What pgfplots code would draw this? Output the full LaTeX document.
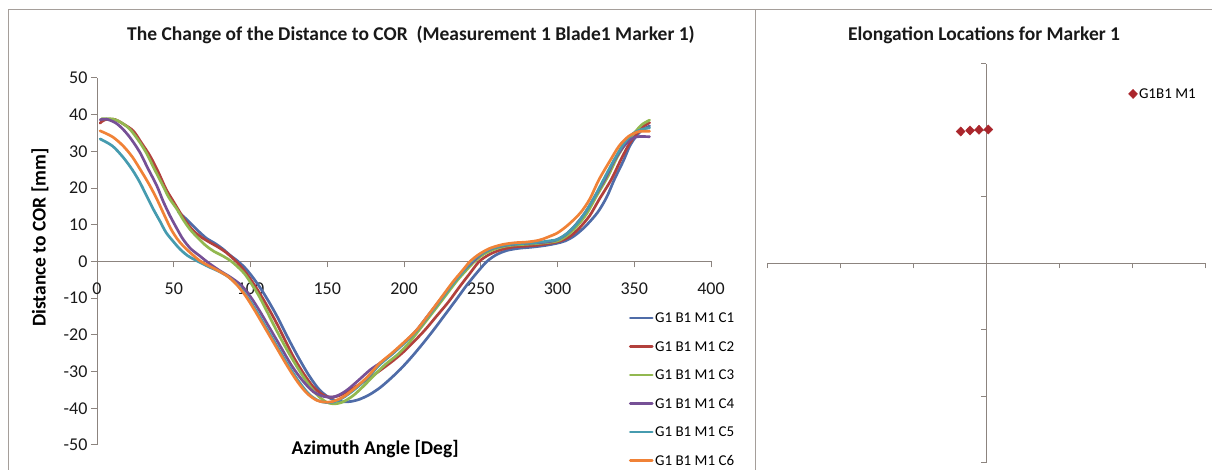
\documentclass[border=0pt]{standalone}
\usepackage{fontspec}
\setmainfont{Carlito}
\usepackage{pgfplots}
\pgfplotsset{compat=1.18}
\definecolor{axiscol}{RGB}{140,132,127}
\definecolor{framecol}{RGB}{165,158,154}
\definecolor{c1}{RGB}{79,108,168}
\definecolor{c2}{RGB}{178,64,60}
\definecolor{c3}{RGB}{146,184,80}
\definecolor{c4}{RGB}{118,80,150}
\definecolor{c5}{RGB}{70,155,175}
\definecolor{c6}{RGB}{240,130,55}
\definecolor{mk}{RGB}{170,38,44}
\begin{document}
\begin{tikzpicture}
\path[use as bounding box] (0pt,0pt) rectangle (1212pt,470pt);
\begin{axis}[
  at={(97pt,25pt)}, anchor=south west, scale only axis,
  width=614pt, height=367pt,
  xmin=0, xmax=400, ymin=-50, ymax=50,
  axis x line=middle, axis y line=left,
  axis line style={draw=axiscol, line width=1pt, -},
  xtick={0,50,...,400}, ytick={-50,-40,...,50},
  tick align=outside, major tick length=6pt,
  tick style={draw=axiscol, line width=1pt},
  every tick label/.append style={font=\fontsize{18}{18}\selectfont, text=black!90},
  xticklabel style={yshift=-12pt},
  /pgf/number format/assume math mode=true,
  hide obscured x ticks=false, hide obscured y ticks=false,
  clip=false,
  xlabel={Azimuth Angle [Deg]}, ylabel={Distance to COR [mm]},
  xlabel style={at={(axis description cs:0.453,-0.011)}, anchor=center, font=\bfseries\fontsize{19.5}{19.5}\selectfont},
  ylabel style={at={(axis description cs:-0.093,0.565)}, anchor=center, rotate=0, font=\bfseries\fontsize{19.5}{19.5}\selectfont},
  legend style={at={(axis description cs:0.866,0.368)}, anchor=north west, draw=none, fill=none, inner sep=0pt, row sep=12.5pt, font=\fontsize{15}{15}\selectfont, nodes={inner sep=1.5pt, text height=11pt, text depth=2pt}},
  legend cell align=left,
  legend image code/.code={\draw[#1] (0pt,0pt) -- (22pt,0pt);},
  every axis plot/.append style={line width=2.7pt, smooth, tension=0.5, line cap=round},
]
\addplot[c1] coordinates {(53,13.5)(57,12)(60.5,10.6)(66,8.3)(71.4,6.3)(77,4.9)(82,3.4)(87,1.6)(92,0)(97,-2)(102,-4.6)(107,-7.6)(112,-11)(118,-15.5)(124,-20.5)(131,-26)(138,-31)(145,-35)(152,-37.3)(158,-38.1)(164,-38.2)(170,-37.7)(177,-36.4)(184,-34.5)(191,-32)(198,-29.2)(205,-26)(212,-22.5)(219,-18.8)(226,-14.9)(234,-10.4)(241,-6.4)(248,-2.8)(254,0)(260,1.8)(267,3)(275,3.6)(283,3.9)(291,4.3)(299,4.9)(305,5.6)(311,7)(318,9.5)(326,13.3)(332,17.5)(337,22.3)(343,27.5)(347,31.4)(351,34)(355,35.8)(360,36.9)};
\addlegendentry{G1 B1 M1 C1}
\addplot[c2] coordinates {(2,37.7)(5,38.6)(11.7,38.7)(17,37.5)(23.6,35.6)(29,32.3)(34.5,28.8)(40,24.3)(45,19.7)(50,16.2)(54,13.4)(58,10.8)(62.7,8.4)(68,6.6)(73.5,5.2)(79,3.9)(84,2.5)(90,0.3)(95,-2)(100,-4.8)(105,-8)(110,-11.5)(116,-16)(122,-21)(128,-26)(135,-30.8)(141,-34.2)(147,-36.3)(152,-37)(158,-36.5)(165,-35)(172,-33.2)(179,-31.3)(186,-29.2)(193,-27)(200,-24.5)(207,-21.6)(214,-18.5)(221,-15)(229,-11)(236,-7)(243,-3.2)(249,0)(256,2)(264,3.3)(272,4)(280,4.2)(288,4.5)(296,5)(302,5.6)(308,6.8)(314,9)(321,12.5)(327,16.8)(335,22.3)(341,27.5)(346,31.5)(351,34.5)(356,36.8)(360,37.8)};
\addlegendentry{G1 B1 M1 C2}
\addplot[c3] coordinates {(3,38.9)(10.6,38.8)(16,37.8)(21.5,36)(27,33)(32,29.7)(37,25.5)(43,20.6)(47,17.3)(52,14.3)(56,11.5)(60.5,8.8)(66,6.3)(71,4.3)(76,2.8)(82,1.5)(87,0.2)(91,-1.2)(96,-3.3)(100,-5.7)(105,-9)(110,-13)(116,-18)(123,-23.5)(130,-28.5)(137,-33)(143,-36.2)(149,-38.2)(154,-38.8)(160,-38.3)(167,-36.5)(174,-33.8)(181,-30.8)(188,-28)(196,-25.3)(204,-21.8)(212,-17.5)(220,-13.2)(228,-8.8)(235,-5)(241,-2.2)(246,0)(252,2)(260,3.5)(268,4.3)(276,4.6)(284,4.8)(292,5.1)(300,5.6)(306,7)(312,9.3)(319,13)(325,17.5)(333,23.3)(339,28.5)(345,32.5)(350,35)(355,37.3)(360,38.5)};
\addlegendentry{G1 B1 M1 C3}
\addplot[c4] coordinates {(2,38.6)(6,38.8)(12,37.8)(17,36)(22,33.5)(28,29.7)(33,25.5)(39,20.6)(43,16.5)(47.5,12.5)(52,9)(56,6.1)(61,3.5)(67,1.5)(73,-0.5)(80,-2.5)(87,-4.3)(94,-6.5)(100,-9.6)(106,-13.5)(113,-18.5)(120,-23.5)(127,-28.5)(134,-32.5)(141,-35.5)(148,-36.8)(155,-36.8)(162,-35.3)(170,-32.5)(178,-29.5)(184,-27.8)(192,-25.3)(200,-22.2)(208,-18.8)(216,-14.5)(224,-10.2)(232,-5.8)(239,-2.4)(245,0)(251,2.2)(258,3.6)(266,4.4)(274,4.8)(282,5)(290,5.2)(298,5.7)(305,7.2)(311,9.6)(318,13.3)(324,17.5)(331,22.5)(337,27.5)(343,31.3)(348,33.3)(352,34)(360,34)};
\addlegendentry{G1 B1 M1 C4}
\addplot[c5] coordinates {(2,33.4)(10,31.5)(17,28.4)(23,25)(28,21.5)(33,17.3)(37,14)(41,11)(45,7.9)(50,5.3)(54,3.4)(59,1.6)(65,0.2)(73,-1.5)(79,-2.6)(86,-4.3)(92,-6.6)(98,-9.7)(104,-13.6)(111,-18.6)(118,-23.6)(125,-28.6)(132,-33)(138,-36.1)(144,-37.9)(149,-38.4)(154,-38.3)(160,-37.2)(168,-34.8)(176,-31.8)(184,-28.2)(192,-25.3)(200,-22.3)(208,-19)(216,-14.8)(224,-10.4)(232,-6)(238,-3)(244,0)(250,2)(257,3.5)(265,4.4)(273,4.8)(281,5)(289,5.3)(296,5.7)(300,6)(306,7.6)(312,10)(318,13.3)(324,17.5)(330,22.3)(337,27.8)(343,32)(349,34.8)(355,36)(360,36.4)};
\addlegendentry{G1 B1 M1 C5}
\addplot[c6] coordinates {(2,35.6)(10,34)(17,31.5)(23,28.5)(28,25.2)(34,21)(39,17)(44,12.5)(48,9)(52,6.3)(56,4.3)(61,2.3)(67,0.2)(72,-1)(78,-2.3)(85,-4)(91,-6.3)(97,-9.5)(103,-13.5)(110,-18.5)(117,-23.5)(124,-28.5)(131,-33)(137,-36)(143,-37.8)(148,-38.3)(153,-38.2)(160,-37)(168,-34.5)(176,-31.5)(184,-27.8)(192,-25)(200,-22)(208,-18.8)(216,-14.5)(224,-10)(232,-5.5)(238,-2.5)(243,0)(249,2)(256,3.6)(264,4.6)(272,5.1)(280,5.3)(288,5.8)(294,6.7)(300,7.8)(307,10)(315,13.3)(321,17)(327,22.3)(334,27.3)(340,31.4)(346,34)(352,35.3)(356,35.5)(360,35.5)};
\addlegendentry{G1 B1 M1 C6}
\end{axis}
\begin{axis}[
  at={(767pt,7pt)}, anchor=south west, scale only axis,
  width=438pt, height=399pt,
  xmin=-3, xmax=3, ymin=-3, ymax=3,
  axis lines=middle,
  axis line style={draw=axiscol, line width=1pt, -},
  xtick={-3,-2,...,3}, ytick={-3,-2,...,3},
  xticklabels={}, yticklabels={},
  tick align=outside, major tick length=5pt,
  tick style={draw=axiscol, line width=1pt},
  hide obscured x ticks=false, hide obscured y ticks=false,
  clip=false,
  legend style={at={(axis description cs:0.825,0.925)}, anchor=west, draw=none, fill=none, inner sep=0pt, font=\fontsize{15}{15}\selectfont, nodes={inner sep=1.5pt}},
  legend image code/.code={\draw[mark repeat=2,mark phase=2,#1] plot coordinates {(0pt,0pt)(5pt,0pt)(10pt,0pt)};},
]
\addplot[only marks, mark=diamond*, mark size=4.6pt, mark options={xscale=1.3}, color=mk] coordinates {(-0.347,1.985)(-0.219,2.0)(-0.096,2.01)(0.032,2.015)};
\addlegendentry{G1B1 M1}
\end{axis}
\draw[framecol, line width=1pt] (8pt,0pt) -- (8pt,460pt) -- (1212pt,460pt);
\draw[framecol, line width=1pt] (755pt,0pt) -- (755pt,460pt);
\node[font=\bfseries\fontsize{19.5}{19.5}\selectfont, text=black!90] at (411pt,435pt) {The Change of the Distance to COR\ \ (Measurement 1 Blade1 Marker 1)};
\node[font=\bfseries\fontsize{19.5}{19.5}\selectfont, text=black!90] at (984pt,435pt) {Elongation Locations for Marker 1};
\end{tikzpicture}
\end{document}
